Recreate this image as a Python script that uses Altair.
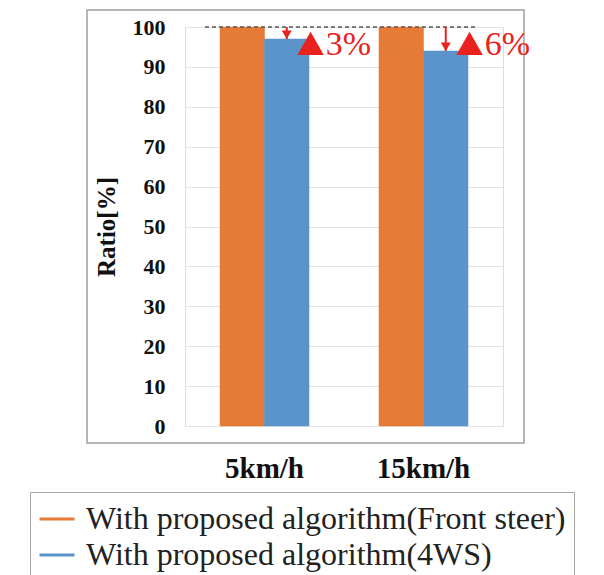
import altair as alt
import pandas as pd

speeds = ["5km/h", "15km/h"]
series = ["With proposed algorithm(Front steer)", "With proposed algorithm(4WS)"]
front_steer = [100, 100]
four_ws = [97, 94]
reduction_labels = ["3%", "6%"]
label_level = 93
y_ticks = [0, 10, 20, 30, 40, 50, 60, 70, 80, 90, 100]
colors = ["#E57B37", "#5B94CB"]
RED = "#E8231E"

rows = []
for s, f, w in zip(speeds, front_steer, four_ws):
    rows.append({"speed": s, "series": series[0], "value": f})
    rows.append({"speed": s, "series": series[1], "value": w})
df = pd.DataFrame(rows)

ann = pd.DataFrame({
    "speed": speeds,
    "series": [series[1]] * len(speeds),
    "top": front_steer,
    "value": four_ws,
    "label": reduction_labels,
    "level": [label_level] * len(speeds),
})

SERIF = "'Liberation Serif', 'Times New Roman', serif"

x_enc = alt.X("speed:N", sort=speeds, scale=alt.Scale(paddingInner=0.44, paddingOuter=0.22),
              axis=alt.Axis(title=None, labelAngle=0, labelFont=SERIF, labelFontSize=29,
                            labelFontWeight="bold", labelColor="#111", labelPadding=28,
                            ticks=False, domain=False, grid=False))
y_scale = alt.Scale(domain=[0, 100], nice=False)
y_axis = alt.Axis(values=y_ticks, tickCount=11, title="Ratio[%]", titleFont=SERIF,
                  titleFontSize=25, titleFontWeight="bold", titleColor="#111", titlePadding=13,
                  labelFont=SERIF, labelFontSize=22, labelFontWeight="bold",
                  labelColor="#111", labelPadding=20, labelOverlap=False, ticks=False,
                  domain=False, grid=True, gridColor="#E3E3E3", gridWidth=1)
xo = alt.XOffset("series:N", sort=series)

legend = alt.Legend(title=None, orient="none", legendX=-155, legendY=465,
                    fillColor="white", strokeColor="#A8A8A8", padding=8,
                    symbolType="stroke", symbolSize=1225, symbolStrokeWidth=3,
                    labelFont=SERIF, labelFontSize=32, labelColor="#222",
                    labelLimit=700, labelOffset=10, rowPadding=1)
series_scale = alt.Scale(domain=series, range=colors)

bars = alt.Chart(df).mark_bar(strokeWidth=0.5).encode(
    x=x_enc,
    xOffset=xo,
    y=alt.Y("value:Q", scale=y_scale, axis=y_axis),
    color=alt.Color("series:N", sort=series, scale=series_scale, legend=legend),
    stroke=alt.Stroke("series:N", sort=series, scale=series_scale, legend=legend),
)

ref_line = alt.Chart(alt.Data(values=[{"v": 100}])).mark_rule(
    color="#555", strokeDash=[4, 3], strokeWidth=1.5
).encode(y=alt.Y("v:Q", scale=y_scale, axis=y_axis), x=alt.value(20), x2=alt.value(292))

arrow_shaft = alt.Chart(ann).mark_rule(color=RED, strokeWidth=2).encode(
    x=alt.X("speed:N", sort=speeds), xOffset=xo,
    y=alt.Y("top:Q", scale=y_scale, axis=y_axis), y2="value:Q",
)
arrow_head = alt.Chart(ann).mark_point(
    shape="M-1,-1.7L1,-1.7L0,0Z", filled=True, color=RED, opacity=1, size=100
).encode(x=alt.X("speed:N", sort=speeds), xOffset=xo,
         y=alt.Y("value:Q", scale=y_scale, axis=y_axis))

triangles = alt.Chart(ann).mark_point(
    shape="M0.8,0L2.8,0L1.8,-1.75Z", filled=True, color=RED, opacity=1, size=700
).encode(x=alt.X("speed:N", sort=speeds), xOffset=xo,
         y=alt.Y("level:Q", scale=y_scale, axis=y_axis))

labels = alt.Chart(ann).mark_text(
    align="left", baseline="alphabetic", dx=39, font=SERIF, fontSize=34, color=RED
).encode(x=alt.X("speed:N", sort=speeds), xOffset=xo,
         y=alt.Y("level:Q", scale=y_scale, axis=y_axis), text="label:N")

frame = alt.Chart(alt.Data(values=[{}])).mark_rect(
    fill=None, stroke="#A0A0A0", strokeWidth=1.5
).encode(x=alt.value(-98), x2=alt.value(339), y=alt.value(-17), y2=alt.value(416))

chart = alt.layer(frame, bars, ref_line, arrow_shaft, arrow_head, triangles, labels).properties(
    width=318, height=399,
    autosize=alt.AutoSizeParams(type="none"),
    padding={"left": 185, "top": 27, "right": 101, "bottom": 149},
).configure_view(stroke=None).configure(background="white")

chart.save("out.html", embed_options={"renderer": "svg", "actions": False})
